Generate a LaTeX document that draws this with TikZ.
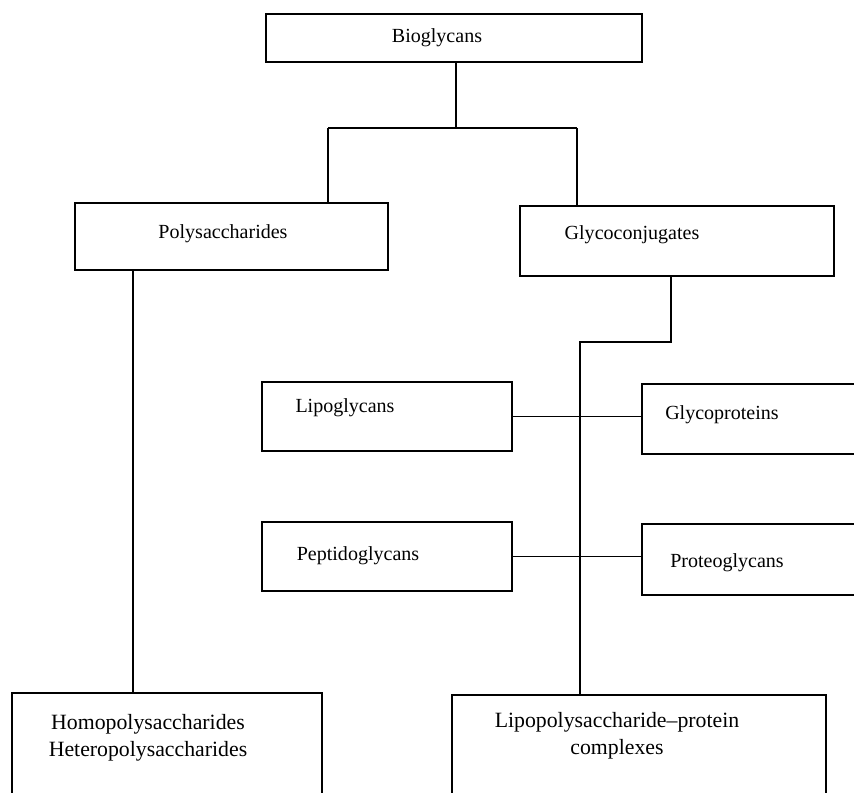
\documentclass[tikz,border=0pt]{standalone}
\usepackage{fontspec}
\setmainfont{Liberation Serif}
\usepackage{tikz}
\usetikzlibrary{calc,positioning}

\tikzset{
  box/.style={draw, rectangle, inner sep=0pt, outer sep=0pt},
  txt/.style={inner sep=0pt, align=center, font=\fontsize{11.4}{15}\selectfont},
  bigtxt/.style={txt, font=\fontsize{12.4}{15.6}\selectfont}
}

\begin{document}
\begin{tikzpicture}[x=0.02cm,y=-0.02cm,line width=0.9pt]
        \useasboundingbox (0,0) rectangle (854,792);
        % boxes
        \node[box, minimum width=7.52cm, minimum height=0.96cm] (bio) at (454,38) {};
        \node[box, minimum width=6.26cm, minimum height=1.34cm] (poly) at (231.5,236.5) {};
        \node[box, minimum width=6.28cm, minimum height=1.40cm] (glyco) at (677,241) {};
        \node[box, minimum width=5.00cm, minimum height=1.38cm] (lipo) at (387,416.5) {};
        \node[box, minimum width=5.56cm, minimum height=1.40cm] (gprot) at (781,419) {};
        \node[box, minimum width=5.00cm, minimum height=1.38cm] (pept) at (387,556.5) {};
        \node[box, minimum width=5.56cm, minimum height=1.42cm] (proteo) at (781,559.5) {};
        \node[box, minimum width=6.20cm, minimum height=4.14cm] (homo) at (167,796.5) {};
        \node[box, minimum width=7.48cm, minimum height=4.10cm] (lps) at (639,797.5) {};
        % texts
        \node[txt] (tbio) at (437,38) {Bioglycans};
        \node[txt] (tpoly) at (223,234) {Polysaccharides};
        \node[txt] (tglyco) at (632,235) {Glycoconjugates};
        \node[txt] (tlipo) at (345,408) {Lipoglycans};
        \node[txt] (tgprot) at (722,415) {Glycoproteins};
        \node[txt] (tpept) at (358,556) {Peptidoglycans};
        \node[txt] (tproteo) at (727,563) {Proteoglycans};
        \node[bigtxt] (thomo) at (148,738) {Homopolysaccharides\\Heteropolysaccharides};
        \node[bigtxt] (tlps) at (617,736) {Lipopolysaccharide--protein\\complexes};
        % connectors
        \coordinate (split) at (456,128);
        \coordinate (jl) at (328,128);
        \coordinate (jr) at (577,128);
        \draw (split |- bio.south) -- (split);
        \draw (jl) -- (jr);
        \draw (jl) -- (jl |- poly.north);
        \draw (jr) -- (jr |- glyco.north);
        \draw ([xshift=-0.68cm]homo.north |- poly.south) -- ([xshift=-0.68cm]homo.north);
        \coordinate (gdrop) at (671,342);
        \coordinate (gbend) at (580,342);
        \draw (gdrop |- glyco.south) -- (gdrop) -- (gbend) -- (gbend |- lps.north);
        \draw (lipo.east) -- (lipo.east -| gprot.west);
        \draw (pept.east) -- (pept.east -| proteo.west);
      \end{tikzpicture}
\end{document}
